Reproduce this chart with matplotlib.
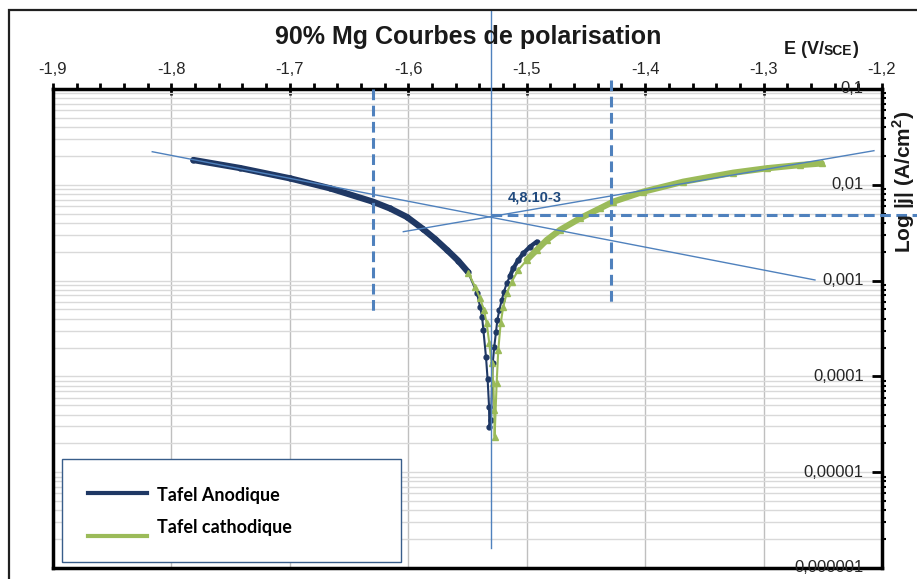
import matplotlib
matplotlib.use('Agg')
import matplotlib.pyplot as plt
from matplotlib.lines import Line2D
from matplotlib.patches import Rectangle
from matplotlib.ticker import FixedLocator, MultipleLocator, LogLocator, NullFormatter

# polarisation curves, E in V/SCE, |j| in A/cm2
anod_E = [-1.7815, -1.7421, -1.7000, -1.6661, -1.6298, -1.6154, -1.6011, -1.5876,
          -1.5774, -1.5673, -1.5580, -1.5496, -1.5420, -1.5394, -1.5377, -1.5366,
          -1.5344, -1.5330, -1.5318, -1.5316, -1.5302, -1.5287, -1.5274, -1.5259,
          -1.5248, -1.5231, -1.5211, -1.5192, -1.5169, -1.5141, -1.5113, -1.5071,
          -1.5029, -1.4972, -1.4916]
anod_j = [0.01815, 0.01497, 0.01169, 0.00919, 0.00666, 0.00566, 0.00461, 0.00346,
          0.00272, 0.00209, 0.00162, 0.00123, 0.000742, 0.000535, 0.000420, 0.000305,
          0.000160, 0.000093, 0.0000483, 0.0000294, 0.0000351, 0.000137, 0.000204, 0.000293,
          0.000388, 0.000493, 0.000627, 0.000766, 0.000937, 0.001117, 0.001344, 0.00164,
          0.00193, 0.00226, 0.00255]

cath_E = [-1.5493, -1.5437, -1.5394, -1.5361, -1.5338, -1.5316, -1.5296, -1.5282,
          -1.5274, -1.5271, -1.5254, -1.5240, -1.5220, -1.5198, -1.5169, -1.5127,
          -1.5071, -1.5000, -1.4916, -1.4831, -1.4719, -1.4550, -1.4381, -1.4269,
          -1.4016, -1.3678, -1.3256, -1.2974, -1.2692, -1.2509]
cath_j = [0.001209, 0.000864, 0.000653, 0.000493, 0.000358, 0.000222, 0.000137, 0.0000847,
          0.0000446, 0.0000235, 0.0000847, 0.0001886, 0.000358, 0.000534, 0.000737, 0.000974,
          0.00129, 0.00164, 0.002087, 0.002653, 0.003375, 0.00447, 0.00568, 0.00666,
          0.00847, 0.01077, 0.01337, 0.01487, 0.01609, 0.01672]

# Tafel lines
tafel_a_E = [-1.8162, -1.2566]
tafel_a_j = [0.02215, 0.001015]
tafel_c_E = [-1.6042, -1.2068]
tafel_c_j = [0.003239, 0.0227]

E_corr = -1.5303
j_corr = 4.8e-3
corr_span = [0.651, 1.62e-6]
hline_end = -1.1705
dash_left_E = -1.6295
dash_left_span = [0.1, 4.4e-4]
dash_right_E = -1.4291
dash_right_span = [0.124, 5.6e-4]

x_ticks = [-1.9, -1.8, -1.7, -1.6, -1.5, -1.4, -1.3, -1.2]
x_labels = ['-1,9', '-1,8', '-1,7', '-1,6', '-1,5', '-1,4', '-1,3', '-1,2']
y_ticks = [1e-1, 1e-2, 1e-3, 1e-4, 1e-5, 1e-6]
y_labels = ['0,1', '0,01', '0,001', '0,0001', '0,00001', '0,000001']
legend_labels = ['Tafel Anodique', 'Tafel cathodique']

navy = '#1F3864'
green = '#9BBB59'
blue = '#4F81BD'

plt.rcParams['font.family'] = ['Liberation Sans', 'DejaVu Sans']
plt.rcParams['mathtext.fontset'] = 'custom'
plt.rcParams['mathtext.rm'] = 'Liberation Sans'
plt.rcParams['mathtext.bf'] = 'Liberation Sans:bold'

W, H = 917, 579
fig = plt.figure(figsize=(W / 100, H / 100), dpi=100)
ax = fig.add_axes([53 / W, 1 - 568 / H, 829 / W, 479 / H])


def fx(px):
    return px / W


def fy(py):
    return 1 - py / H


# outer chart frame
fig.patches.append(Rectangle((fx(9), -0.2), 1.5, 1.2 - 10 / H, transform=fig.transFigure,
                             fill=False, edgecolor='#202020', lw=1.6))

ax.set_yscale('log')
ax.set_xlim(-1.9, -1.2)
ax.set_ylim(1e-6, 0.1)

# grid
ax.set_axisbelow(True)
ax.grid(which='major', axis='x', color='#BFBFBF', lw=1)
ax.grid(which='both', axis='y', color='#D9D9D9', lw=1)

# curves
ax.plot(anod_E[:12], anod_j[:12], color=navy, lw=4.5, solid_capstyle='round', zorder=3)
ax.plot(anod_E[29:], anod_j[29:], color=navy, lw=3, solid_capstyle='round', zorder=3)
ax.plot(anod_E, anod_j, color=navy, lw=1.5, marker='o', ms=3.5, zorder=3)
ax.plot(cath_E[17:], cath_j[17:], color=green, lw=4.5, solid_capstyle='round', zorder=4)
ax.plot(cath_E, cath_j, color=green, lw=1.5, marker='^', ms=4, zorder=4)

# Tafel construction
dash = (0, (3.5, 1.8))
ax.plot(tafel_a_E, tafel_a_j, color=blue, lw=1, zorder=5)
ax.plot(tafel_c_E, tafel_c_j, color=blue, lw=1, zorder=5)
ax.plot([E_corr, E_corr], corr_span, color=blue, lw=1, clip_on=False, zorder=5)
ax.plot([E_corr, hline_end], [j_corr, j_corr], color=blue, lw=2.2, ls=dash,
        clip_on=False, zorder=5)
ax.plot([dash_left_E, dash_left_E], dash_left_span, color=blue, lw=2.2, ls=dash,
        clip_on=False, zorder=5)
ax.plot([dash_right_E, dash_right_E], dash_right_span, color=blue, lw=2.2, ls=dash,
        clip_on=False, zorder=5)
ax.text(-1.493, 7.3e-3, '4,8.10-3', color='#1F497D', fontsize=10.5, fontweight='bold',
        ha='center', va='center', zorder=6)

# axes styling
for s in ax.spines.values():
    s.set_linewidth(2.5)
    s.set_color('black')

ax.xaxis.set_major_locator(FixedLocator(x_ticks))
ax.set_xticklabels(x_labels)
ax.xaxis.set_minor_locator(MultipleLocator(0.02))
ax.tick_params(axis='x', which='major', direction='inout', length=8, width=2, top=True,
               bottom=False, labeltop=True, labelbottom=False, labelsize=12, pad=5,
               labelcolor='#262626')
ax.tick_params(axis='x', which='minor', direction='out', length=4, width=2, top=True, bottom=False)

ax.yaxis.set_major_locator(FixedLocator(y_ticks))
ax.yaxis.set_minor_locator(LogLocator(base=10, subs=range(2, 10)))
ax.yaxis.set_minor_formatter(NullFormatter())
ax.tick_params(axis='y', which='major', direction='in', length=7, width=2, right=True,
               left=False, labelleft=False, labelright=False)
ax.tick_params(axis='y', which='minor', direction='out', length=3, width=1.5, right=True,
               left=False)
for v, lab in zip(y_ticks, y_labels):
    ax.text(0.978, v, lab, transform=ax.get_yaxis_transform(), ha='right', va='center',
            fontsize=12, color='#262626', zorder=6, clip_on=False)

# titles
fig.text(fx(468), fy(37), '90% Mg Courbes de polarisation', ha='center', va='center',
         fontsize=18, fontweight='bold', color='#1a1a1a')
t1 = fig.text(fx(784), fy(54), 'E (V/', ha='left', va='baseline', fontsize=13,
              fontweight='bold', color='#1a1a1a')
t2 = ax.annotate('SCE', xy=(1, 0), xycoords=t1, ha='left', va='bottom', fontsize=10,
                 fontweight='bold', color='#1a1a1a', annotation_clip=False)
ax.annotate(')', xy=(1, 0), xycoords=t2, ha='left', va='bottom', fontsize=13,
            fontweight='bold', color='#1a1a1a', annotation_clip=False)
fig.text(fx(904), fy(182), r'Log |j| (A/cm$^\mathbf{2}$)', rotation=90, ha='center',
         va='center', fontsize=15, fontweight='bold', color='#1a1a1a')

# legend box (drawn by hand to follow the Excel layout)
fig.patches.append(Rectangle((fx(62), fy(562)), (401 - 62) / W, (562 - 459) / H,
                             transform=fig.transFigure, facecolor='white',
                             edgecolor='#385D8A', lw=1, zorder=10))
for color, label, y_line, y_text in zip([navy, green], legend_labels, [493, 536], [496, 527]):
    fig.add_artist(Line2D([fx(88), fx(147)], [fy(y_line), fy(y_line)], color=color, lw=3,
                          transform=fig.transFigure, zorder=11))
    fig.text(fx(157), fy(y_text), label, ha='left', va='center', fontsize=13,
             fontweight='bold', family='Lato', color='black', zorder=11)

fig.savefig('out.png', dpi=100)
